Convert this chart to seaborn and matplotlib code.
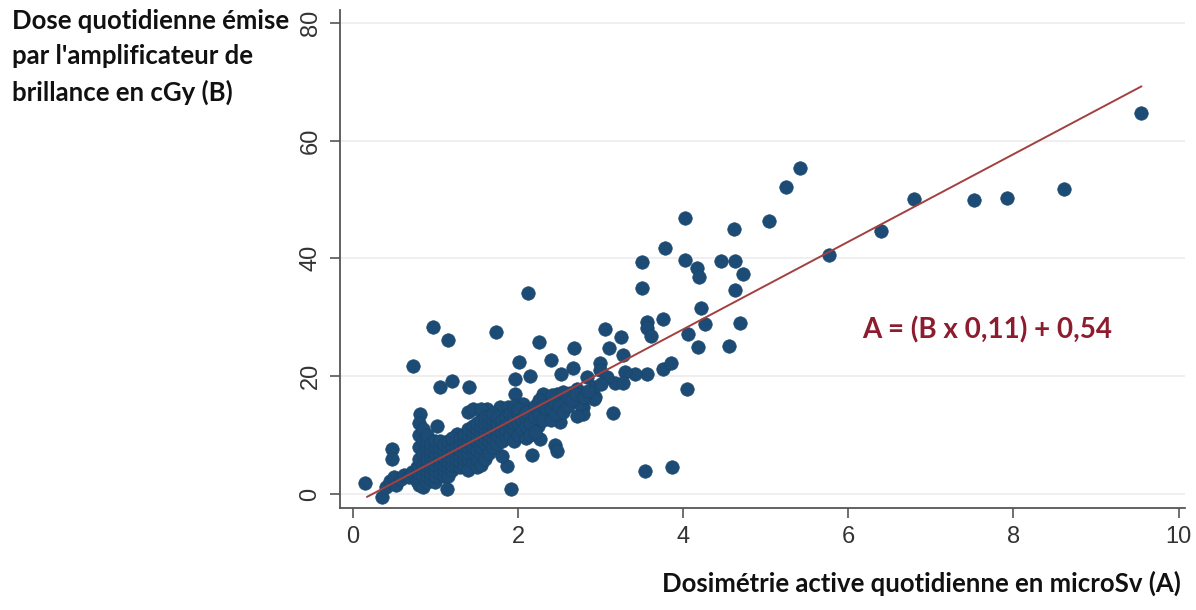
import numpy as np
import pandas as pd
import matplotlib
matplotlib.use("Agg")
import matplotlib.pyplot as plt
import seaborn as sns

## values
## A = dosimetrie active (microSv), B = dose amplificateur (cGy)

# sparse points, upper / right part
sparse_a = [9.55, 8.61, 7.92, 7.52, 6.79, 6.40, 5.76, 5.42, 5.24, 5.04, 4.62, 4.02,
            3.78, 3.50, 4.02, 4.17, 4.19, 4.46, 4.63, 4.72, 3.50, 4.63, 4.22, 3.56,
            3.56, 3.61, 3.75, 4.27, 4.69, 4.06, 4.18, 4.56, 3.75, 3.85, 3.56, 3.42,
            3.30, 3.18, 3.27, 4.05, 3.15, 2.93, 2.79, 2.79, 3.54, 3.87,
            2.12, 0.97, 1.15, 1.73, 0.73, 2.01, 2.25, 2.40, 2.68, 3.05, 3.25, 3.10,
            3.27, 1.05, 1.20, 1.41, 1.96, 2.15, 1.96, 2.52, 2.67, 2.84, 2.99, 2.99,
            3.08, 2.92, 3.00, 2.30, 2.47, 2.63]
sparse_b = [64.6, 51.8, 50.3, 49.9, 50.1, 44.7, 40.5, 55.3, 52.1, 46.4, 45.0, 46.9,
            41.8, 39.3, 39.8, 38.4, 36.9, 39.5, 39.6, 37.4, 34.9, 34.7, 31.5, 29.2,
            28.2, 26.8, 29.7, 28.8, 29.0, 27.2, 25.0, 25.1, 21.2, 22.3, 20.4, 20.4,
            20.7, 18.9, 18.9, 17.9, 13.8, 16.4, 14.7, 13.5, 3.9, 4.6,
            34.1, 28.3, 26.1, 27.5, 21.8, 22.4, 25.8, 22.8, 24.8, 28.0, 26.6, 24.8,
            23.6, 18.2, 19.2, 18.2, 19.6, 20.1, 16.9, 20.4, 21.4, 19.9, 22.3, 21.1,
            19.9, 18.2, 18.6, 16.5, 16.9, 17.2]

# middle band, x 2 to 3.2
mid_a = [2.06, 2.30, 2.41, 2.55, 2.72, 2.92, 2.75, 2.72, 2.51, 2.35, 2.24, 2.18,
         2.27, 2.45, 2.47, 2.17, 1.87, 1.81, 1.92, 1.62, 1.78, 1.88, 2.05]
mid_b = [15.3, 17.0, 16.8, 17.3, 17.8, 16.1, 15.3, 13.2, 12.2, 13.0, 11.5, 14.4,
         9.3, 8.3, 7.3, 6.6, 4.8, 6.5, 0.9, 14.4, 14.8, 14.8, 13.6]

# bottom left
low_a = [0.15, 0.35, 1.14, 0.47, 0.47, 0.81, 1.02, 1.26, 0.40, 0.45, 0.50, 0.52,
         0.58, 0.62, 0.68, 0.72, 0.78, 0.78]
low_b = [1.9, -0.5, 0.8, 7.6, 5.9, 13.6, 11.5, 10.2, 1.2, 2.2, 2.8, 1.5,
         2.5, 3.2, 2.8, 3.8, 2.2, 4.5]

# dense cluster
dense_a = [0.80] * 8 + [0.85] * 7 + [0.90] * 9 + [0.95] * 7 + [1.00] * 8 + [1.05] * 6 \
    + [1.10] * 6 + [1.15] * 6 + [1.20] * 6 + [1.25] * 4 + [1.30] * 6 + [1.35] * 6 \
    + [1.40] * 8 + [1.45] * 7 + [1.50] * 7 + [1.55] * 8 + [1.60] * 6 + [1.65] * 6 \
    + [1.70] * 6 + [1.75] * 5 + [1.80] * 4 + [1.85] * 4 + [1.90] * 4 + [1.95] * 5 \
    + [2.00] * 4 + [2.05] * 2 + [2.10] * 4 + [2.15] * 2 + [2.20] * 3 + [2.25] * 2 \
    + [2.30] * 2 + [2.35] * 1 + [2.40] * 2 + [2.45] * 2 + [2.50] * 1 + [2.55] * 1 \
    + [2.60] * 2 + [2.65] * 1 + [2.70] * 1 + [2.80] * 1 + [2.85] * 1
dense_b = [1.5, 2.5, 3.5, 4.5, 6, 8, 10, 12,
           1.2, 3, 4, 5, 7, 9, 11,
           2, 3, 4, 5, 6, 7, 8, 9, 10,
           2.5, 3.5, 4.5, 5.5, 6.5, 7.5, 8.5,
           2, 3, 4, 5, 6, 7, 8, 9,
           3.5, 5, 6, 7, 8, 9,
           3, 4, 5, 6, 7.5, 8.5,
           3, 4.5, 5.5, 6.5, 7.5, 9,
           4, 5, 6, 7, 8, 9.5,
           5, 6, 7, 8,
           4.5, 5.5, 6.5, 7.5, 8.5, 9.5,
           5, 6, 7, 8, 9, 10,
           4, 6, 7, 8, 9, 10, 11, 14,
           5.5, 7, 8, 9.5, 10.5, 11.5, 14.5,
           4.5, 6, 7.5, 9, 10, 11, 12,
           5, 7, 8, 9, 10.5, 11.5, 12.5, 14.5,
           6, 8.5, 9.5, 10.5, 12, 13,
           7, 9, 10, 11, 12, 13,
           8, 9.5, 10.5, 11.5, 12.5, 13.5,
           8.5, 10, 11, 12, 13,
           9, 10.5, 11.5, 12.5,
           9.5, 11, 12, 13,
           10, 11.5, 12.5, 13.5,
           9, 11, 12, 13, 15,
           10, 12, 13.5, 14.5,
           11, 12.5,
           9.5, 11.5, 13, 14,
           12, 10,
           10.5, 13, 15,
           13.5, 16,
           12.5, 15,
           14.5,
           12.5, 14.5,
           13.5, 15.5,
           15,
           14,
           15, 16.5,
           16,
           17,
           16.5,
           17.5]

# regression line ends
reg_a = [0.17, 9.55]
reg_b = [-0.5, 69.2]

x_ticks = [0, 2, 4, 6, 8, 10]
y_ticks = [0, 20, 40, 60, 80]

df = pd.DataFrame({
    'A': sparse_a + mid_a + low_a + dense_a,
    'B': sparse_b + mid_b + low_b + dense_b,
})
reg = pd.DataFrame({'A': reg_a, 'B': reg_b})

sns.set_theme(style='white')
plt.rcParams['font.family'] = ['Liberation Sans', 'DejaVu Sans']

fig = plt.figure(figsize=(11.96, 6.10), dpi=100)
ax = fig.add_axes([0.284, 0.167, 0.707, 0.817])

for yt in y_ticks:
    ax.axhline(yt, color='#ececec', lw=1.2, zorder=0)

sns.scatterplot(data=df, x='A', y='B', ax=ax, s=95, color='#1c4c75',
                edgecolor='#174469', linewidth=0.4, zorder=2, legend=False)
sns.lineplot(data=reg, x='A', y='B', ax=ax, color='#a3403f', lw=1.4, zorder=3)

ax.set_xlim(-0.16, 10.08)
ax.set_ylim(-2.4, 82.2)
ax.set_xticks(x_ticks)
ax.set_yticks(y_ticks)
ax.set_xlabel('')
ax.set_ylabel('')
ax.tick_params(axis='both', which='both', direction='out', length=7, width=1.2,
               color='#555555', labelsize=17, labelcolor='#333333', pad=6,
               bottom=True, left=True)
for lab in ax.get_yticklabels():
    lab.set_rotation(90)
    lab.set_va('center')

for side in ['top', 'right']:
    ax.spines[side].set_visible(False)
for side in ['left', 'bottom']:
    ax.spines[side].set_color('#555555')
    ax.spines[side].set_linewidth(1.3)

ax.text(6.17, 27.8, 'A = (B x 0,11) + 0,54', color='#8c1c2e', fontsize=20,
        fontweight='bold', family=['Lato', 'DejaVu Sans'], va='center', ha='left')

fig.text(0.010, 0.985, "Dose quotidienne émise\npar l'amplificateur de\nbrillance en cGy (B)",
         ha='left', va='top', fontsize=18.5, fontweight='bold', linespacing=1.55,
         family=['Lato', 'DejaVu Sans'], color='#111111')
fig.text(0.987, 1 - 583 / 610, 'Dosimétrie active quotidienne en microSv (A)',
         ha='right', va='center', fontsize=18.5, fontweight='bold',
         family=['Lato', 'DejaVu Sans'], color='#111111')

fig.savefig('out.png', dpi=100, facecolor='white')
